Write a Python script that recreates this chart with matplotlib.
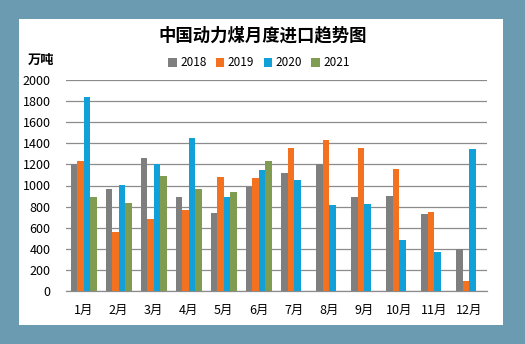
import numpy as np
import matplotlib
matplotlib.use("Agg")
from matplotlib import pyplot as plt

plt.rcParams['font.family'] = ['Noto Sans CJK SC', 'DejaVu Sans']

months = ["1月", "2月", "3月", "4月", "5月", "6月", "7月", "8月", "9月", "10月", "11月", "12月"]
years = ["2018", "2019", "2020", "2021"]
v2018 = [1200, 970, 1261, 891, 739, 986, 1115, 1200, 891, 900, 730, 401]
v2019 = [1235, 559, 682, 768, 1081, 1071, 1355, 1431, 1355, 1156, 749, 95]
v2020 = [1842, 1002, 1200, 1450, 891, 1147, 1052, 815, 825, 483, 370, 1346]
v2021 = [891, 834, 1090, 967, 938, 1235]
yticks = list(range(0, 2001, 200))

colors = ["#7f7f7f", "#f4711f", "#12a0d8", "#7f9c50"]
series = [v2018, v2019, v2020, v2021]

fig = plt.figure(figsize=(5.25, 3.44), dpi=100)
fig.patch.set_facecolor("#6a9bb0")
# white chart panel
bg = fig.add_axes([19/525, 1 - 325/344, 484/525, 306/344], zorder=0)
bg.set_facecolor("white")
bg.set_xticks([])
bg.set_yticks([])
for s in bg.spines.values():
    s.set_visible(False)

ax = fig.add_axes([66/525, 1 - 291/344, 421/525, 211/344], zorder=1)
ax.set_facecolor("none")

w = 0.185
x = np.arange(len(months))
for i, (vals, c, lbl) in enumerate(zip(series, colors, years)):
    xi = x[:len(vals)] + (i - 1.5) * w
    ax.bar(xi, vals, width=w, color=c, label=lbl, zorder=3)

ax.set_xlim(-0.5, len(months) - 0.5)
ax.set_ylim(0, 2000)
ax.set_yticks(yticks)
ax.set_yticklabels([str(t) for t in yticks], fontsize=9)
ax.set_xticks(x)
ax.set_xticklabels(months, fontsize=9)
ax.tick_params(axis="both", length=0)
ax.tick_params(axis="y", pad=11)
ax.tick_params(axis="x", pad=9)
ax.grid(axis="y", color="#8c8c8c", lw=0.9, zorder=1)
for s in ["top", "right", "left"]:
    ax.spines[s].set_visible(False)
ax.spines["bottom"].set_color("#8c8c8c")
ax.spines["bottom"].set_linewidth(0.9)

fig.text(0.5, 1 - 35/344, "中国动力煤月度进口趋势图", ha="center", va="center",
         fontsize=12.5, fontweight="bold", zorder=2)
fig.text(28/525, 1 - 60/344, "万吨", ha="left", va="center", fontsize=9.5,
         fontweight="bold", zorder=2)
ax.legend(loc="center", bbox_to_anchor=(259/525, 1 - 63/344),
          bbox_transform=fig.transFigure, ncol=4, frameon=False, fontsize=8.5,
          handlelength=0.7, handleheight=0.7, handletextpad=0.3, columnspacing=0.8)

fig.savefig("out.png", dpi=100)
